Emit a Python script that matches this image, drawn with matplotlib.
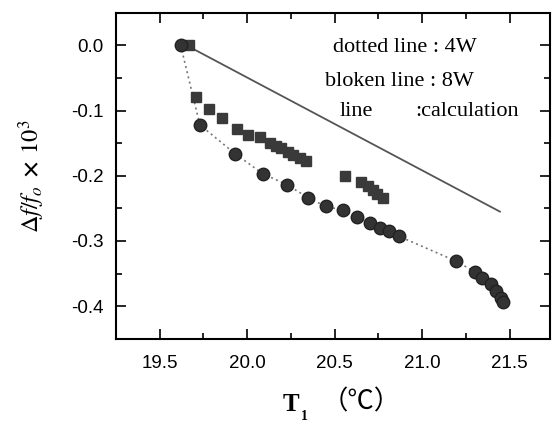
import matplotlib
matplotlib.use("Agg")
import matplotlib.pyplot as plt
from matplotlib.ticker import MultipleLocator

plt.rcParams['mathtext.fontset'] = 'stix'

# 4W measurement (circles, dotted line)
t_4w = [19.62, 19.73, 19.93, 20.09, 20.23, 20.35, 20.45, 20.55, 20.63, 20.70,
        20.76, 20.81, 20.87, 21.195, 21.30, 21.34, 21.395, 21.425, 21.45, 21.465]
df_4w = [0.0, -0.122, -0.166, -0.197, -0.214, -0.234, -0.247, -0.253, -0.263, -0.273,
         -0.280, -0.285, -0.293, -0.331, -0.347, -0.356, -0.366, -0.377, -0.387, -0.393]

# 8W measurement (squares)
t_8w = [19.665, 19.71, 19.78, 19.856, 19.94, 20.005, 20.075, 20.13, 20.167, 20.195,
        20.233, 20.262, 20.30, 20.338, 20.56, 20.65, 20.69, 20.72, 20.745, 20.775]
df_8w = [0.0, -0.079, -0.097, -0.112, -0.128, -0.137, -0.140, -0.150, -0.154, -0.158,
         -0.163, -0.168, -0.173, -0.178, -0.200, -0.210, -0.216, -0.222, -0.228, -0.234]

# calculation line
t_calc = [19.66, 21.445]
df_calc = [-0.001, -0.255]

xticks = [19.5, 20.0, 20.5, 21.0, 21.5]
yticks = [0.0, -0.1, -0.2, -0.3, -0.4]

fig = plt.figure(figsize=(5.52, 4.23), dpi=100)
ax = fig.add_axes([0.210, 0.199, 0.786, 0.771])

ax.plot(t_calc, df_calc, color='#555555', lw=1.3, zorder=2)
ax.plot(t_4w, df_4w, color='#777777', lw=1.2, ls=(0, (1.2, 2.0)), zorder=2)
ax.plot(t_8w, df_8w, ls='none', marker='s', ms=6.5, color='#3a3a3a', zorder=3)
ax.plot(t_4w, df_4w, ls='none', marker='o', ms=9, color='#333333',
        markeredgecolor='#222222', zorder=4)

ax.set_xlim(19.25, 21.73)
ax.set_ylim(-0.45, 0.05)
ax.set_xticks(xticks)
ax.set_yticks(yticks)
ax.xaxis.set_minor_locator(MultipleLocator(0.25))
ax.yaxis.set_minor_locator(MultipleLocator(0.05))
ax.set_xticklabels([f"{v:.1f}" for v in xticks], fontfamily='Liberation Sans', fontsize=13.5)
ax.set_yticklabels([f"{v:.1f}" for v in yticks], fontfamily='Liberation Sans', fontsize=13.5)
ax.tick_params(which='both', direction='in', top=True, right=True, width=1.2, colors='black')
ax.tick_params(axis='x', which='major', length=7, pad=12)
ax.tick_params(axis='y', which='major', length=7, pad=9)
ax.tick_params(which='minor', length=4)
for s in ax.spines.values():
    s.set_linewidth(1.5)

tf = dict(fontfamily='Liberation Serif', fontsize=16, va='center', ha='left',
          transform=fig.transFigure)
fig.text(333 / 552, 1 - 47 / 423, "dotted line : 4W", **tf)
fig.text(325 / 552, 1 - 81 / 423, "bloken line : 8W", **tf)
fig.text(340 / 552, 1 - 111 / 423, "line", **tf)
fig.text(415 / 552, 1 - 111 / 423, ":calculation", **tf)

# y label
fig.text(32 / 552, 1 - 176 / 423, r'$\Delta f/f_o$ $\mathbf{\times}$ $10^3$',
         rotation=90, ha='center', va='center', fontsize=17.5)

# x label
fig.text(299 / 552, 1 - 404 / 423, r'T', fontfamily='Liberation Serif', fontsize=18,
         ha='right', va='center', fontweight='bold')
fig.text(301 / 552, 1 - 416 / 423, '1', fontfamily='Liberation Serif', fontsize=10,
         ha='left', va='center', fontweight='bold')
fig.text(322 / 552, 1 - 402 / 423, '（℃）', fontfamily=['Noto Sans CJK JP', 'DejaVu Sans'],
         fontsize=19, ha='left', va='center')

fig.savefig('out.png', dpi=100)
